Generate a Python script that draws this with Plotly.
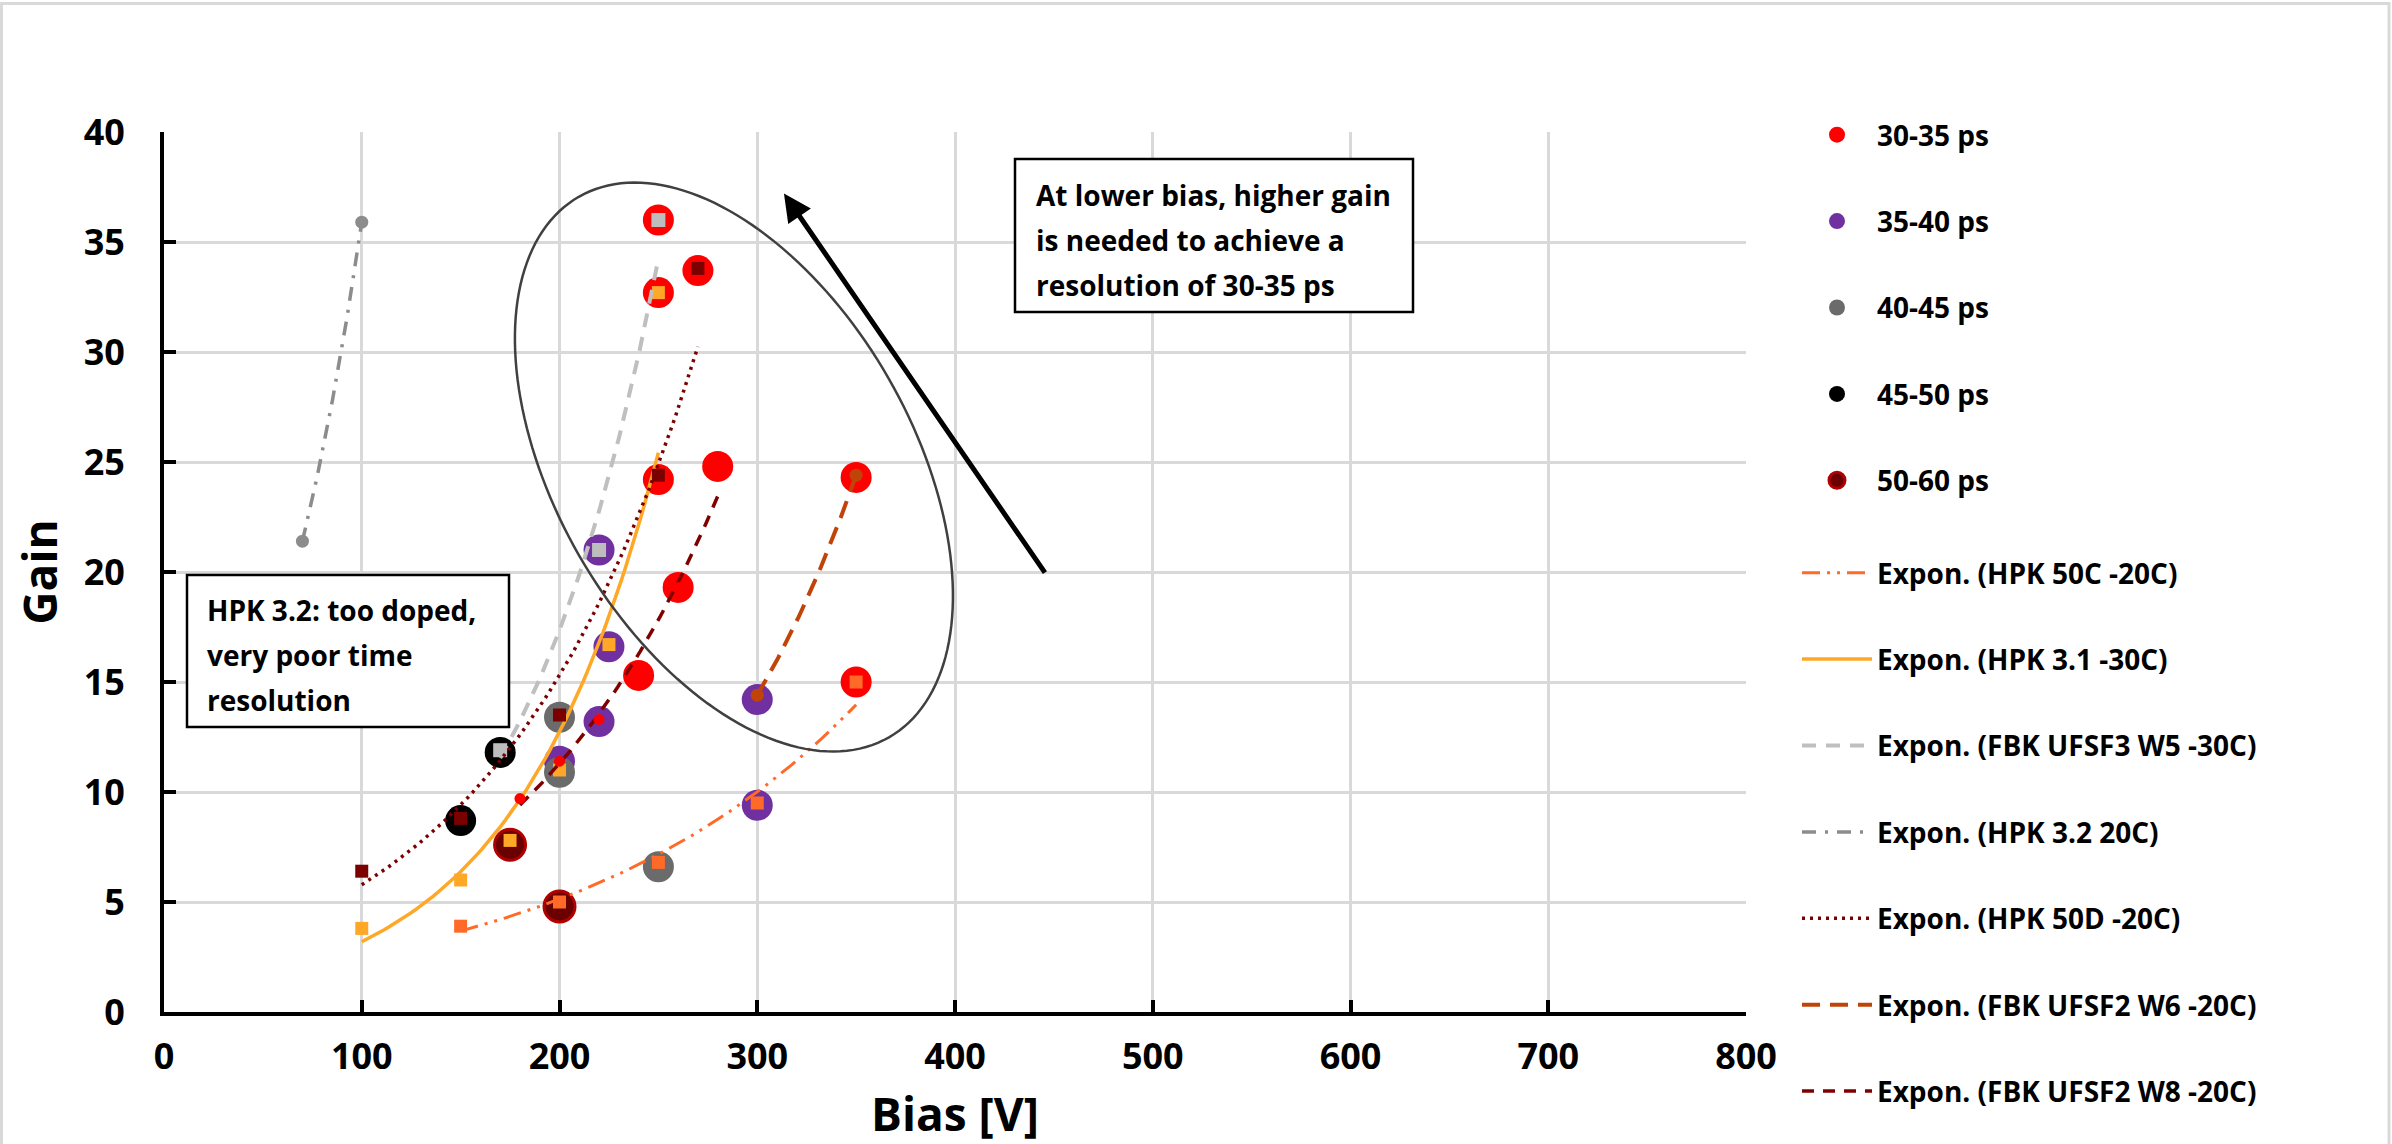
import numpy as np
import plotly.graph_objects as go

# ---------------- data ----------------
x_ticks = [0, 100, 200, 300, 400, 500, 600, 700, 800]
y_ticks = [0, 5, 10, 15, 20, 25, 30, 35, 40]

# time-resolution classes (large circles)
res_labels = ["30-35 ps", "35-40 ps", "40-45 ps", "45-50 ps", "50-60 ps"]
res_30_35_bias = [250, 250, 270, 250, 280, 260, 240, 350, 350]
res_30_35_gain = [36.0, 32.7, 33.7, 24.2, 24.8, 19.3, 15.3, 24.3, 15.0]
res_35_40_bias = [220, 225, 220, 200, 300, 300]
res_35_40_gain = [21.0, 16.6, 13.2, 11.4, 14.2, 9.4]
res_40_45_bias = [200, 200, 250]
res_40_45_gain = [13.4, 10.9, 6.6]
res_45_50_bias = [170, 150]
res_45_50_gain = [11.8, 8.7]
res_50_60_bias = [175, 200]
res_50_60_gain = [7.6, 4.8]

# sensor measurement series (small markers + exponential trendlines)
hpk50c_bias = [150, 200, 250, 300, 350]
hpk50c_gain = [3.9, 5.0, 6.8, 9.5, 15.0]
hpk31_bias = [100, 150, 175, 200, 225, 250]
hpk31_gain = [3.8, 6.0, 7.8, 11.0, 16.7, 32.7]
w5_bias = [170, 220, 250]
w5_gain = [11.9, 21.0, 36.0]
hpk32_bias = [70, 100]
hpk32_gain = [21.4, 35.9]
hpk50d_bias = [100, 150, 200, 250, 270]
hpk50d_gain = [6.4, 8.8, 13.5, 24.4, 33.8]
w6_bias = [300, 350]
w6_gain = [14.4, 24.4]
w8_bias = [180, 200, 220, 240, 260, 280]
w8_gain = [9.7, 11.4, 13.3, 15.3, 19.3, 24.7]

trend_names = [
    "Expon. (HPK 50C -20C)",
    "Expon. (HPK 3.1 -30C)",
    "Expon. (FBK UFSF3 W5 -30C)",
    "Expon. (HPK 3.2 20C)",
    "Expon. (HPK 50D -20C)",
    "Expon. (FBK UFSF2 W6 -20C)",
    "Expon. (FBK UFSF2 W8 -20C)",
]

# ---------------- layout constants ----------------
FIG_W, FIG_H = 2392, 1144
L, R, T, B = 164, 646, 132, 132
PW, PH = FIG_W - L - R, FIG_H - T - B
X_MAX, Y_MAX = 800, 40
FONT = "Open Sans"


def px_x(px):
    return (px - L) / PW


def px_y(py):
    return (FIG_H - B - py) / PH


def expfit(x, y):
    x = np.asarray(x, float)
    y = np.asarray(y, float)
    b, lna = np.polyfit(x, np.log(y), 1)
    xs = np.linspace(x.min(), x.max(), 80)
    return xs, np.exp(lna + b * xs)


fig = go.Figure()

# ---------------- resolution class circles ----------------
res_sets = [
    (res_30_35_bias, res_30_35_gain, "#FF0000", None),
    (res_35_40_bias, res_35_40_gain, "#7030A0", None),
    (res_40_45_bias, res_40_45_gain, "#6B6B6B", None),
    (res_45_50_bias, res_45_50_gain, "#000000", None),
    (res_50_60_bias, res_50_60_gain, "#6B0000", "#B00000"),
]
for i, (xs, ys, col, lcol) in enumerate(res_sets):
    fig.add_trace(go.Scatter(
        x=xs, y=ys, mode="markers", name=res_labels[i],
        legend="legend", legendgroup="g%d" % i, legendrank=i + 1,
        marker=dict(size=31, color=col,
                    line=dict(color=lcol if lcol else col, width=3 if lcol else 0)),
    ))

# ---------------- sensor series ----------------
series = [
    (hpk50c_bias, hpk50c_gain, "#FF6A28", "square", 13, "#FF6A28", "18px,7px,3px,7px,3px,7px", 3),
    (hpk31_bias, hpk31_gain, "#FFA726", "square", 13, "#FFA726", "solid", 3.5),
    (w5_bias, w5_gain, "#BDBDBD", "square", 14, "#BFBFBF", "14px,10px", 4),
    (hpk32_bias, hpk32_gain, "#8C8C8C", "circle", 13, "#8C8C8C", "14px,9px,3px,9px", 3.5),
    (hpk50d_bias, hpk50d_gain, "#7B0000", "square", 13, "#7B0000", "3px,5px", 3.5),
    (w6_bias, w6_gain, "#C0440A", "circle", 13, "#C0440A", "18px,10px", 4),
    (w8_bias, w8_gain, "#FF0000", "circle", 11, "#800000", "12px,9px", 3.5),
]
for j, (xs, ys, mcol, sym, msz, lcol, dash, lw) in enumerate(series):
    tx, ty = expfit(xs, ys)
    fig.add_trace(go.Scatter(
        x=tx, y=ty, mode="lines", name=trend_names[j],
        legend="legend2", legendgroup="t%d" % j, legendrank=10 + j,
        line=dict(color=lcol, width=lw, dash=dash),
    ))
    fig.add_trace(go.Scatter(
        x=xs, y=ys, mode="markers", showlegend=False,
        marker=dict(size=msz, color=mcol, symbol=sym, line=dict(width=0)),
    ))

# ---------------- shapes ----------------
shapes = []
# outer chart frame
shapes.append(dict(type="rect", xref="paper", yref="paper",
                   x0=px_x(1.5), x1=px_x(2389), y0=px_y(1170), y1=px_y(3.5),
                   line=dict(color="#D9D9D9", width=3), layer="above"))

# tilted ellipse around the 30-35 ps points (defined in pixel geometry)
ell_cx, ell_cy = 288.2, 24.77          # centre in data units
ell_a, ell_b, ell_ang = 311.6, 178.3, 60.15   # semi-axes px, angle deg
xpu, ypu = PW / X_MAX, PH / Y_MAX
t = np.linspace(0, 2 * np.pi, 181)
th = np.radians(ell_ang)
u, v = ell_a * np.cos(t), ell_b * np.sin(t)
dx = u * np.cos(th) - v * np.sin(th)
dy = u * np.sin(th) + v * np.cos(th)
ex = ell_cx + dx / xpu
ey = ell_cy - dy / ypu
path = "M " + " L ".join("%.4f,%.4f" % (a, b) for a, b in zip(ex, ey)) + " Z"
shapes.append(dict(type="path", xref="x", yref="y", path=path,
                   line=dict(color="#404040", width=2.5), layer="above"))

# text boxes
box1 = (1015, 159, 1413, 312)
box2 = (187, 575, 509, 727)
for bx in (box1, box2):
    shapes.append(dict(type="rect", xref="paper", yref="paper",
                       x0=px_x(bx[0]), x1=px_x(bx[2]), y0=px_y(bx[3]), y1=px_y(bx[1]),
                       line=dict(color="black", width=2.5), fillcolor="white",
                       layer="above"))

annotations = []
box1_lines = ["At lower bias, higher gain", "is needed to achieve a", "resolution of 30-35 ps"]
box1_y = [195, 240, 285]
box2_lines = ["HPK 3.2: too doped,", "very poor time", "resolution"]
box2_y = [610, 655, 700]
for txt, yy in zip(box1_lines, box1_y):
    annotations.append(dict(x=px_x(1034), y=px_y(yy), xref="paper", yref="paper",
                            text=txt, showarrow=False, xanchor="left", yanchor="middle",
                            font=dict(family=FONT, size=28, color="black", weight="bold")))
for txt, yy in zip(box2_lines, box2_y):
    annotations.append(dict(x=px_x(205), y=px_y(yy), xref="paper", yref="paper",
                            text=txt, showarrow=False, xanchor="left", yanchor="middle",
                            font=dict(family=FONT, size=28, color="black", weight="bold")))

# arrow
annotations.append(dict(x=313.5, y=37.2, ax=446, ay=19.9, xref="x", yref="y",
                        axref="x", ayref="y", text="", showarrow=True,
                        arrowhead=2, arrowsize=1.1, arrowwidth=5, arrowcolor="black",
                        standoff=0))

axis_common = dict(
    showgrid=True, gridcolor="#D9D9D9", gridwidth=2.5,
    showline=True, linecolor="black", linewidth=4,
    ticks="inside", ticklen=12, tickwidth=4, tickcolor="black",
    zeroline=False, fixedrange=True,
    tickfont=dict(family=FONT, size=36, color="black", weight="bold"),
)

legend_font = dict(family=FONT, size=28, color="black", weight="bold")

fig.update_layout(
    width=FIG_W, height=FIG_H,
    margin=dict(l=L, r=R, t=T, b=B, autoexpand=False),
    paper_bgcolor="white", plot_bgcolor="white",
    xaxis=dict(range=[0, X_MAX], tickvals=x_ticks, ticktext=[str(v) for v in x_ticks],
               ticklabelstandoff=10,
               title=dict(text="Bias [V]", standoff=40,
                          font=dict(family=FONT, size=46, color="black", weight="bold")),
               **axis_common),
    yaxis=dict(range=[0, Y_MAX], tickvals=y_ticks, ticktext=[str(v) for v in y_ticks],
               ticklabelstandoff=28,
               title=dict(text="Gain", standoff=13,
                          font=dict(family=FONT, size=46, color="black", weight="bold")),
               **axis_common),
    legend=dict(x=px_x(1797), y=px_y(110), xanchor="left", yanchor="top",
                font=legend_font, tracegroupgap=47, itemwidth=70,
                bgcolor="rgba(0,0,0,0)", traceorder="grouped"),
    legend2=dict(x=px_x(1797), y=px_y(548), xanchor="left", yanchor="top",
                 font=legend_font, tracegroupgap=47, itemwidth=70,
                 bgcolor="rgba(0,0,0,0)", traceorder="grouped"),
    shapes=shapes,
    annotations=annotations,
    showlegend=True,
)

fig.write_html("out.html")
